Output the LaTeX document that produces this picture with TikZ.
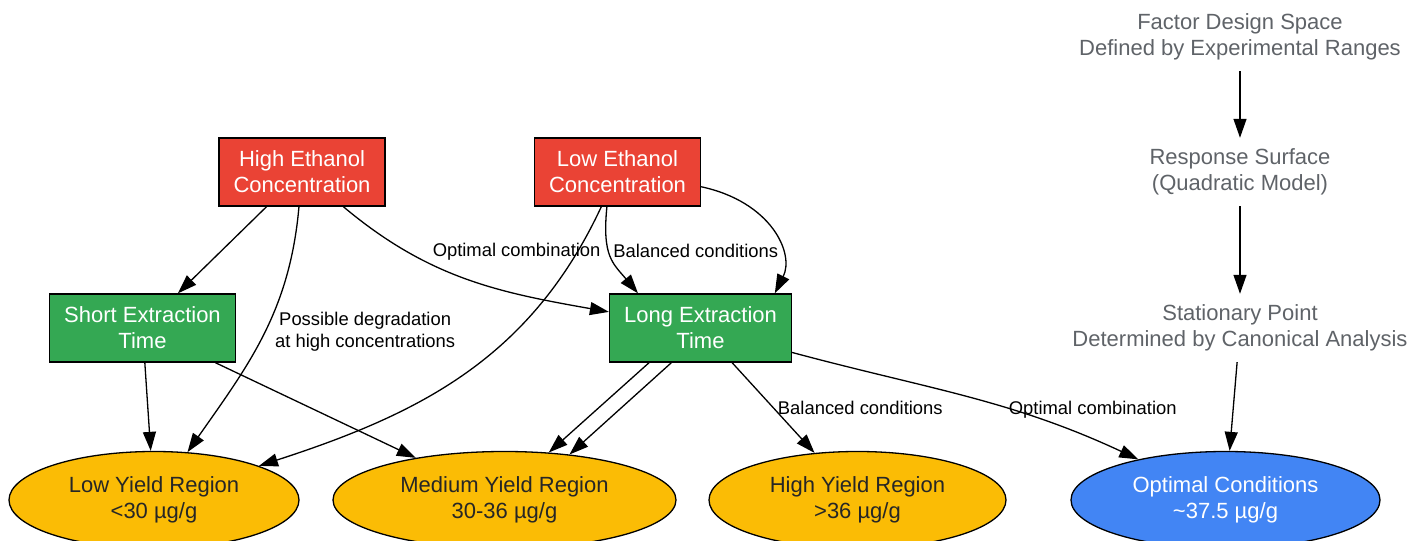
\documentclass[tikz,border=0pt]{standalone}
\usepackage{fontspec}
\setmainfont{Liberation Sans}
\usetikzlibrary{arrows.meta,shapes.geometric}
\definecolor{gred}{HTML}{EA4335}
\definecolor{ggreen}{HTML}{34A853}
\definecolor{gyellow}{HTML}{FBBC05}
\definecolor{gblue}{HTML}{4285F4}
\definecolor{ggray}{HTML}{5F6368}

\begin{document}
\begin{tikzpicture}[x=1pt,y=1pt,
    fac/.style={rectangle,draw=black,line width=1.3pt,fill=gred,text=white,align=center,minimum height=68pt,inner xsep=14.5pt,font=\fontsize{22}{26}\selectfont},
    tim/.style={fac,fill=ggreen},
    reg/.style={ellipse,draw=black,line width=1.3pt,fill=gyellow,text=black!85,align=center,inner sep=0pt,minimum height=97pt,font=\fontsize{22}{26}\selectfont},
    opt/.style={reg,fill=gblue,text=white},
    note/.style={align=center,text=ggray,minimum height=68pt,font=\fontsize{22}{26}\selectfont},
    conn/.style={-{Triangle[length=19pt,width=13pt]},line width=1.3pt},
    lbl/.style={font=\fontsize{18.4}{22}\selectfont,align=center,inner sep=1pt}]
    \useasboundingbox (0,0) rectangle (1428,541);

    % factors and times
    \node[fac] (he) at (302,369) {High Ethanol\\Concentration};
    \node[fac] (lo) at (617.5,369) {Low Ethanol\\Concentration};
    \node[tim] (se) at (142.5,213) {Short Extraction\\Time};
    \node[tim] (le) at (700.5,213) {Long Extraction\\Time};

    % yield regions
    \node[reg,minimum width=290pt] (ly) at (154,41) {Low Yield Region\\<30 µg/g};
    \node[reg,minimum width=343pt] (my) at (504.5,41) {Medium Yield Region\\30-36 µg/g};
    \node[reg,minimum width=297pt] (hy) at (857.5,41) {High Yield Region\\>36 µg/g};
    \node[opt,minimum width=309pt] (oc) at (1225.5,41) {Optimal Conditions\\\textasciitilde37.5 µg/g};

    % analysis steps
    \node[note] (fd) at (1240,504) {Factor Design Space\\Defined by Experimental Ranges};
    \node[note] (rs) at (1240,369) {Response Surface\\(Quadratic Model)};
    \node[note] (sp) at (1240,213) {Stationary Point\\Determined by Canonical Analysis};

    \draw[conn] (he) -- (se);
    \draw[conn] (he) to[out=-95,in=55] node[lbl,pos=.5,right=3pt,xshift=8pt,yshift=5pt] {Possible degradation\\at high concentrations} (ly);
    \draw[conn] (he) to[out=-40,in=170] node[lbl,pos=.55,above=4pt,xshift=37pt,yshift=17pt] {Optimal combination} (le);
    \draw[conn] (lo) to[out=-115,in=18] (ly);
    \draw[conn] (lo.-107) .. controls +(-5,-50) and +(-25,30) .. node[lbl,pos=.45,right=2pt,yshift=3pt] {Balanced conditions} (le.151);
    \draw[conn] (lo.-10) .. controls +(70,-15) and +(20,40) .. (le.25);
    \draw[conn] (se) -- (ly);
    \draw[conn] (se) -- (my);
    \draw[conn] (le.-146) -- (my.47);
    \draw[conn] (le.-130) -- (my.35);
    \draw[conn] (le) -- node[lbl,pos=.5,right=6pt,xshift=-3pt] {Balanced conditions} (hy);
    \draw[conn] (le) to[out=-15,in=155] node[lbl,pos=.7,above=4pt,xshift=60pt,yshift=-7pt] {Optimal combination} (oc);
    \draw[conn] (fd) -- (rs);
    \draw[conn] (rs) -- (sp);
    \draw[conn] (sp) -- (oc);
\end{tikzpicture}
\end{document}
